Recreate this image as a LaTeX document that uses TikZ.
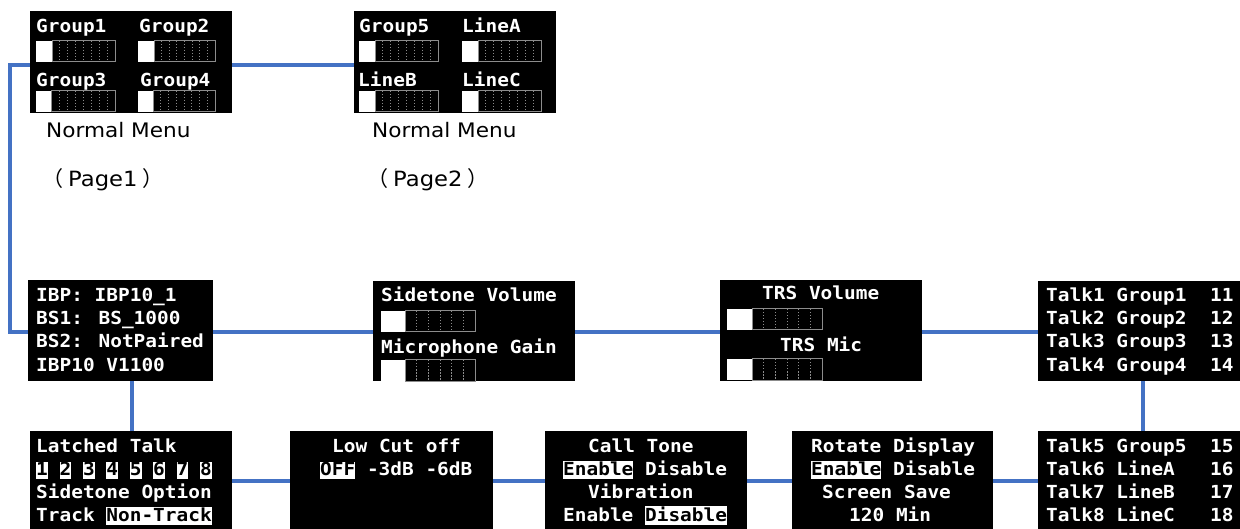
\documentclass[tikz,border=0pt]{standalone}
\usepackage{fontspec}
\usetikzlibrary{calc}
\newfontfamily\oled[FakeStretch=1.08]{DejaVu Sans Mono Bold}
\newfontfamily\capfont[FakeStretch=1.08]{DejaVu Sans}
\newfontfamily\jpfont{Noto Sans CJK JP}
\definecolor{link}{HTML}{4472C4}
\definecolor{barline}{HTML}{8C8C8C}
% inverted (selected) item on the OLED screen
\newcommand\hl[1]{{\setlength{\fboxsep}{0pt}\colorbox{white}{\textcolor{black}{\rule[-4pt]{0pt}{17.5pt}#1}}}}
% level bar: left, top, width of the filled part, total width, number of dividers
\newcommand\levelbar[5]{%
  \fill[white] (#1,#2) rectangle ++(#3,21);
  \draw[barline,line width=1pt] (#1+#3,#2) rectangle (#1+#4,#2+21);
  \foreach \k in {1,...,#5}
    \draw[barline,line width=1pt,dash pattern=on 1.5pt off 1.5pt]
      ({#1+#3+\k*(#4-#3)/(#5+1)},#2) -- ++(0,21);
}
\tikzset{
  screen/.style={fill=black,draw=none,inner sep=0pt,anchor=north west},
  oledtxt/.style={text=white,font=\oled\fontsize{18}{23}\selectfont,inner sep=0pt,anchor=base west},
  captxt/.style={text=black,font=\capfont\fontsize{20}{24}\selectfont,inner sep=0pt,anchor=base west},
  pgtxt/.style={text=black,font=\capfont\fontsize{21}{24}\selectfont,inner sep=0pt,anchor=base west},
  link/.style={draw=link,line width=3.2pt}
}
% page caption with full-width brackets
\newcommand\pagecap[1]{{\jpfont （}\kern5pt#1\kern5pt{\jpfont ）}}
\begin{document}
\begin{tikzpicture}[x=1pt,y=-1pt]
\useasboundingbox (0,0) rectangle (1240,529);
\clip (0,0) rectangle (1240,529);

% screens
\node[screen,minimum width=202pt,minimum height=102pt] (P1) at (30,11) {};
\node[screen,minimum width=202pt,minimum height=102pt] (P2) at (354,11) {};
\node[screen,minimum width=185pt,minimum height=101pt] (IBP) at (28,280) {};
\node[screen,minimum width=202pt,minimum height=100pt] (ST) at (373,281) {};
\node[screen,minimum width=202pt,minimum height=101pt] (TRS) at (720,280) {};
\node[screen,minimum width=202pt,minimum height=100pt] (T1) at (1038,281) {};
\node[screen,minimum width=202pt,minimum height=110pt] (LT) at (30,431) {};
\node[screen,minimum width=203pt,minimum height=110pt] (LC) at (290,431) {};
\node[screen,minimum width=202pt,minimum height=110pt] (CT) at (545,431) {};
\node[screen,minimum width=201pt,minimum height=110pt] (RD) at (792,431) {};
\node[screen,minimum width=202pt,minimum height=110pt] (T2) at (1038,431) {};

% connectors
\coordinate (bend) at (10,65);
\draw[link] (P1.east |- 0,65) -- (P2.west |- 0,65);
\draw[link] (P1.west |- 0,65) -- (bend) |- (IBP.west |- 0,332);
\draw[link] (IBP.east |- 0,332) -- (ST.west |- 0,332);
\draw[link] (ST.east |- 0,332) -- (TRS.west |- 0,332);
\draw[link] (TRS.east |- 0,332) -- (T1.west |- 0,332);
\draw[link] (T1.south -| 1143,0) -- (T2.north -| 1143,0);
\draw[link] (IBP.south -| 132,0) -- (LT.north -| 132,0);
\draw[link] (LT.east |- 0,481) -- (LC.west |- 0,481);
\draw[link] (LC.east |- 0,481) -- (CT.west |- 0,481);
\draw[link] (CT.east |- 0,481) -- (RD.west |- 0,481);
\draw[link] (RD.east |- 0,481) -- (T2.west |- 0,481);

% normal menu, page 1
\node[oledtxt] (g1) at (36,33) {Group1};
\node[oledtxt] (g2) at (139,33) {Group2};
\node[oledtxt] (g3) at (36,87) {Group3};
\node[oledtxt] (g4) at (140,87) {Group4};
\levelbar{36}{41}{16}{79}{7}
\levelbar{138}{41}{16}{77}{7}
\levelbar{36}{91}{15}{79}{7}
\levelbar{138}{91}{15}{77}{7}
\node[captxt] (cap1) at (46,137.5) {Normal Menu};
\node[pgtxt] (pg1) at (42,187) {\pagecap{Page1}};

% normal menu, page 2
\node[oledtxt] (g5) at (359,33) {Group5};
\node[oledtxt] (la) at (462,33) {LineA};
\node[oledtxt] (lb) at (358,87) {LineB};
\node[oledtxt] (lc) at (462,87) {LineC};
\levelbar{359}{41}{16}{79}{7}
\levelbar{462}{41}{16}{79}{7}
\levelbar{359}{91}{16}{79}{7}
\levelbar{462}{91}{16}{79}{7}
\node[captxt] (cap2) at (372,137.5) {Normal Menu};
\node[pgtxt] (pg2) at (367,187) {\pagecap{Page2}};

% device information
\node[oledtxt] (i1) at (36,302) {IBP: IBP10\_1};
\node[oledtxt] (i2) at (36,325) {BS1: BS\_1000};
\node[oledtxt] (i3) at (36,348) {BS2: NotPaired};
\node[oledtxt] (i4) at (36,371) {IBP10 V1100};

% sidetone / microphone
\node[oledtxt] (s1) at (381,302) {Sidetone Volume};
\levelbar{381}{311}{24}{94}{5}
\node[oledtxt] (s2) at (381,353) {Microphone Gain};
\levelbar{381}{360}{24}{94}{5}

% TRS
\node[oledtxt] (r1) at (762,300) {TRS Volume};
\levelbar{727}{309}{25}{95}{5}
\node[oledtxt] (r2) at (780,352) {TRS Mic};
\levelbar{727}{359}{25}{95}{5}

% talk keys 1-4
\node[oledtxt] (k1) at (1046,302) {Talk1 Group1~~11};
\node[oledtxt] (k2) at (1046,325) {Talk2 Group2~~12};
\node[oledtxt] (k3) at (1046,348) {Talk3 Group3~~13};
\node[oledtxt] (k4) at (1046,371) {Talk4 Group4~~14};

% latched talk
\node[oledtxt] (l1) at (36,452) {Latched Talk};
\node[oledtxt] (l2) at (36,475) {\hl{1} \hl{2} \hl{3} \hl{4} \hl{5} \hl{6} \hl{7} \hl{8}};
\node[oledtxt] (l3) at (36,498) {Sidetone Option};
\node[oledtxt] (l4) at (36,521) {Track \hl{Non-Track}};

% low cut
\node[oledtxt] (c1) at (332,452) {Low Cut off};
\node[oledtxt] (c2) at (320,475) {\hl{OFF} -3dB -6dB};

% call tone / vibration
\node[oledtxt] (t1) at (588,452) {Call Tone};
\node[oledtxt] (t2) at (563,475) {\hl{Enable} Disable};
\node[oledtxt] (t3) at (588,498) {Vibration};
\node[oledtxt] (t4) at (563,521) {Enable \hl{Disable}};

% display
\node[oledtxt] (d1) at (811,452) {Rotate Display};
\node[oledtxt] (d2) at (811,475) {\hl{Enable} Disable};
\node[oledtxt] (d3) at (822,498) {Screen Save};
\node[oledtxt] (d4) at (849,521) {120 Min};

% talk keys 5-8
\node[oledtxt] (k5) at (1046,452) {Talk5 Group5~~15};
\node[oledtxt] (k6) at (1046,475) {Talk6 LineA~~~16};
\node[oledtxt] (k7) at (1046,498) {Talk7 LineB~~~17};
\node[oledtxt] (k8) at (1046,521) {Talk8 LineC~~~18};
\end{tikzpicture}
\end{document}
